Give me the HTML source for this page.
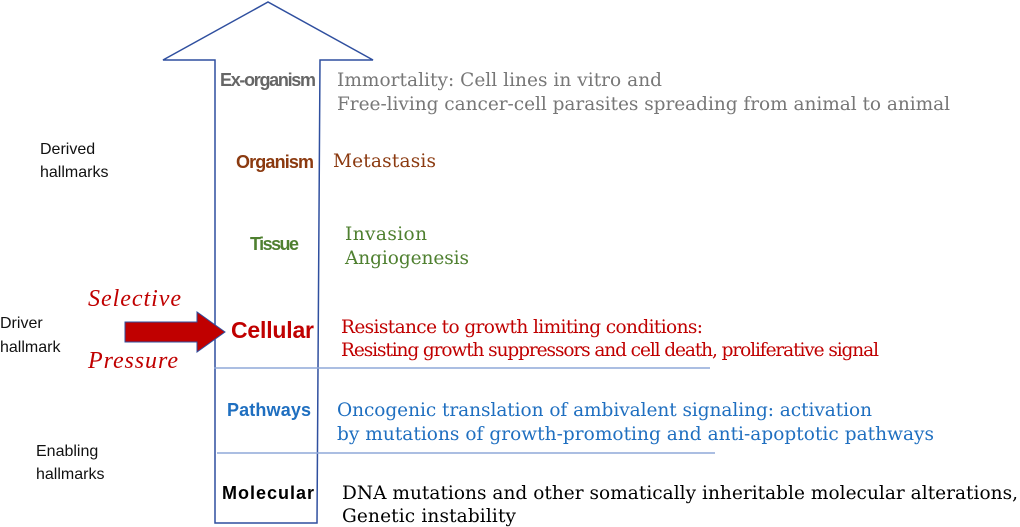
<!DOCTYPE html>
<html><head><meta charset="utf-8"><style>
html,body{margin:0;padding:0;background:#fff;width:1020px;height:527px;overflow:hidden}
svg{display:block}
.s{font-family:"DejaVu Serif","Liberation Serif",serif;font-size:18.5px}
.b{font-family:"Liberation Sans",sans-serif;font-weight:bold;font-size:18px}
.n{font-family:"Liberation Sans",sans-serif;font-size:16px;fill:#111}
</style></head><body>
<svg width="1020" height="527" viewBox="0 0 1020 527">
<path d="M215,523 L215,60 L163,60 L268,2 L373,60 L320,60 L317,523 Z" fill="#fff" stroke="#2f4f9f" stroke-width="1.5"/>
<line x1="214" y1="368" x2="710" y2="368" stroke="#8fa8d8" stroke-width="1.5"/>
<line x1="217" y1="453" x2="715" y2="453" stroke="#8fa8d8" stroke-width="1.5"/>
<path d="M125,322 L197,322 L197,312 L225,332 L197,352 L197,342 L125,342 Z" fill="#c00000" stroke="#2f4f9f" stroke-width="1"/>
<text class="n" x="40" y="154">Derived</text>
<text class="n" x="40" y="177">hallmarks</text>
<text class="n" x="0" y="328">Driver</text>
<text class="n" x="0" y="352">hallmark</text>
<text class="n" x="36" y="456">Enabling</text>
<text class="n" x="36" y="479">hallmarks</text>
<text x="88" y="306" font-family="Liberation Serif,serif" font-style="italic" font-size="24" fill="#c00000" textLength="93">Selective</text>
<text x="88" y="368" font-family="Liberation Serif,serif" font-style="italic" font-size="24" fill="#c00000" textLength="90">Pressure</text>
<text class="b" x="220" y="86" fill="#666" textLength="96">Ex-organism</text>
<text class="b" x="236" y="168" fill="#8b3a10" textLength="78">Organism</text>
<text class="b" x="250" y="250" fill="#4f8030" textLength="49">Tissue</text>
<text x="231" y="338" font-family="Liberation Sans,sans-serif" font-weight="bold" font-size="23" fill="#c00000" textLength="83">Cellular</text>
<text class="b" x="227" y="416" fill="#1f6fc0" textLength="84">Pathways</text>
<text class="b" x="222" y="499" fill="#000" textLength="92">Molecular</text>
<text class="s" x="337" y="86" fill="#777" textLength="325">Immortality: Cell lines in vitro and</text>
<text class="s" x="337" y="110" fill="#777" textLength="613">Free-living cancer-cell parasites spreading from animal to animal</text>
<text class="s" x="333" y="167" fill="#8b3a10" textLength="103">Metastasis</text>
<text class="s" x="345" y="240" fill="#4f8030" textLength="82">Invasion</text>
<text class="s" x="345" y="264" fill="#4f8030" textLength="124">Angiogenesis</text>
<text class="s" x="341" y="333" fill="#c00000" textLength="362">Resistance to growth limiting conditions:</text>
<text class="s" x="341" y="356" fill="#c00000" font-size="16.5" textLength="538">Resisting growth suppressors and cell death, proliferative signal</text>
<text class="s" x="337" y="416" fill="#1f6fc0" textLength="535">Oncogenic translation of ambivalent signaling: activation</text>
<text class="s" x="337" y="440" fill="#1f6fc0" textLength="597">by mutations of growth-promoting and anti-apoptotic pathways</text>
<text class="s" x="342" y="499" fill="#000" textLength="676">DNA mutations and other somatically inheritable molecular alterations,</text>
<text class="s" x="342" y="522" fill="#000" textLength="174">Genetic instability</text>
</svg>
</body></html>
